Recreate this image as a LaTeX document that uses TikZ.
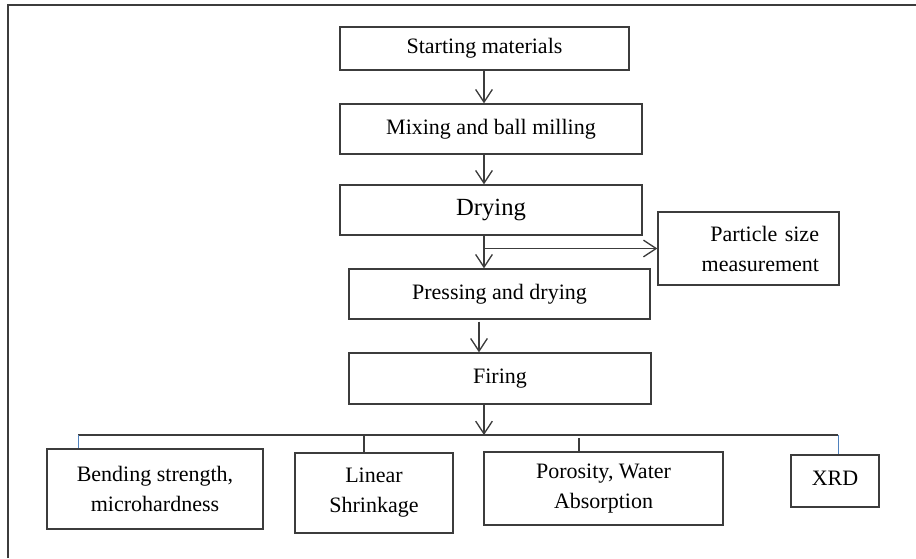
\documentclass[tikz,border=0pt]{standalone}
\usepackage{fontspec}
\setmainfont{Liberation Serif}
\usetikzlibrary{arrows.meta}

\definecolor{linegray}{RGB}{60,60,60}
\definecolor{wordblue}{RGB}{79,129,189}

\tikzset{
  stage/.style 2 args = {draw = linegray, line width = 1pt,
    minimum width = #1*0.75pt, minimum height = #2*0.75pt,
    inner sep = 0pt, align = center, font = \fontsize{16.5}{22.5}\selectfont},
  flow/.style = {draw = linegray, line width = 1pt,
    -{Straight Barb[length = 9.5pt, width = 12.5pt]}},
  tie/.style = {draw = linegray, line width = 1pt},
  bluetie/.style = {draw = wordblue, line width = 0.7pt},
}

\begin{document}
\begin{tikzpicture}[x = 0.75pt, y = -0.75pt]

  \useasboundingbox (0,0) rectangle (916,558);

  % outer frame (runs off at right and bottom)
  \draw[linegray, line width = 1.5pt] (8,558) -- (8,5) -- (916,5);

  % main chain
  \node[stage = {289}{43}] (start) at (484.5, 48.5) {Starting materials};
  \node[stage = {302}{50}] (mix) at (491, 129) {Mixing and ball milling};
  \node[stage = {302}{50}, font = \fontsize{18.5}{22}\selectfont] (dry) at (491, 210) {Drying};
  \node[stage = {301}{50}] (press) at (499.5, 294) {Pressing and drying};
  \node[stage = {302}{51}] (fire) at (500, 378.5) {Firing};

  % side branch
  \node[stage = {181}{73}, align = right, text width = 105.75pt, inner xsep = 15pt]
    (psize) at (748.5, 248.5) {Particle size\\measurement};

  % tests
  \node[stage = {216}{80}] (bend) at (155, 489) {Bending strength,\\microhardness};
  \node[stage = {158}{80}] (lin) at (374, 493) {Linear\\Shrinkage};
  \node[stage = {239}{73}] (poro) at (603.5, 488.5) {Porosity, Water\\Absorption};
  \node[stage = {88}{52}] (xrd) at (835, 481) {\raisebox{4.5pt}{XRD}};

  % connectors
  \coordinate (spine) at (484, 0);
  \coordinate (spineb) at (479, 0);
  \coordinate (busL) at (78, 435);
  \coordinate (busR) at (838, 435);
  \coordinate (linT) at (364, 435);
  \coordinate (poroT) at (579, 438);

  \draw[flow] (start.south -| spine) -- (mix.north -| spine);
  \draw[flow] (mix.south -| spine) -- (dry.north -| spine);
  \draw[flow] (dry.south -| spine) -- (press.north -| spine);
  \draw[flow] (spine |- psize.west) -- (psize.west);
  \draw[flow] ([yshift = -1.5pt]press.south -| spineb) -- (fire.north -| spineb);
  \draw[flow] (fire.south -| spine) -- (spine |- busL);

  \draw[tie] (busL) -- (busR);
  \draw[bluetie] (busL) -- (busL |- bend.north);
  \draw[tie] (linT) -- (linT |- lin.north);
  \draw[tie] (poroT) -- (poroT |- poro.north);
  \draw[bluetie] (busR) -- (busR |- xrd.north);

\end{tikzpicture}
\end{document}
